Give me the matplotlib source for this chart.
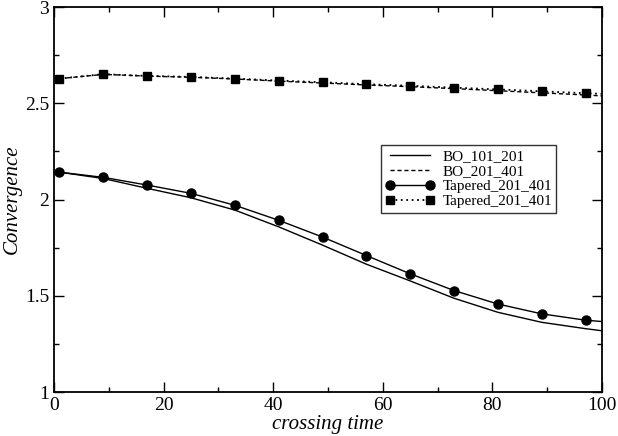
import matplotlib
matplotlib.use("Agg")
import matplotlib.pyplot as plt
from matplotlib.ticker import MultipleLocator

# valores
tiempo = [1, 9, 17, 25, 33, 41, 49, 57, 65, 73, 81, 89, 97, 100]
bo_101_201 = [2.142, 2.109, 2.058, 2.009, 1.945, 1.858, 1.763, 1.664,
              1.577, 1.487, 1.414, 1.362, 1.329, 1.318]
bo_201_401 = [2.628, 2.650, 2.641, 2.635, 2.626, 2.615, 2.605, 2.595,
              2.586, 2.576, 2.565, 2.554, 2.543, 2.538]
tapered_circ = [2.142, 2.115, 2.075, 2.032, 1.970, 1.892, 1.805, 1.709,
                1.614, 1.527, 1.457, 1.406, 1.373, 1.366]
tapered_sq = [2.628, 2.651, 2.642, 2.637, 2.628, 2.618, 2.609, 2.599,
              2.591, 2.581, 2.572, 2.562, 2.552, 2.549]

plt.rcParams["font.family"] = ["Liberation Serif", "DejaVu Serif"]

fig = plt.figure(figsize=(6.18, 4.36), dpi=100)
ax = fig.add_axes([54 / 618, 1 - 392 / 436, 548 / 618, 385 / 436])

marcas = list(range(len(tiempo) - 1))
ax.plot(tiempo, bo_101_201, color="black", linewidth=1.0, label="BO_101_201")
ax.plot(tiempo, bo_201_401, color="black", linewidth=1.0, linestyle=(0, (3, 2)),
        label="BO_201_401")
ax.plot(tiempo, tapered_circ, color="black", linewidth=1.0, marker="o",
        markersize=6.5, markevery=marcas, label="Tapered_201_401")
ax.plot(tiempo, tapered_sq, color="black", linewidth=1.3, linestyle=(0, (1, 2)),
        marker="s", markersize=5.5, markevery=marcas, label="Tapered_201_401")

ax.set_xlim(0, 100)
ax.set_ylim(1, 3)
ax.xaxis.set_major_locator(MultipleLocator(20))
ax.xaxis.set_minor_locator(MultipleLocator(10))
ax.yaxis.set_major_locator(MultipleLocator(0.5))
ax.yaxis.set_minor_locator(MultipleLocator(0.25))
ax.yaxis.set_major_formatter(plt.FuncFormatter(lambda v, p: f"{v:g}"))
ax.tick_params(which="both", direction="in", top=True, right=True,
               labelsize=14, width=1.0)
ax.tick_params(which="major", length=7)
ax.tick_params(which="minor", length=3.5)
for s in ax.spines.values():
    s.set_linewidth(1.3)

ax.set_xlabel("crossing time", fontsize=15, style="italic", labelpad=1)
ax.set_ylabel("Convergence", fontsize=15, style="italic", labelpad=2)

leg = ax.legend(loc="upper left", bbox_to_anchor=(0.597, 0.6416), fontsize=11,
                numpoints=2, handlelength=3.2, handletextpad=0.5,
                borderpad=0.3, labelspacing=0.08, frameon=True,
                fancybox=False, borderaxespad=0)
leg.get_frame().set_edgecolor("black")
leg.get_frame().set_linewidth(1.0)

fig.savefig("out.png", dpi=100)
